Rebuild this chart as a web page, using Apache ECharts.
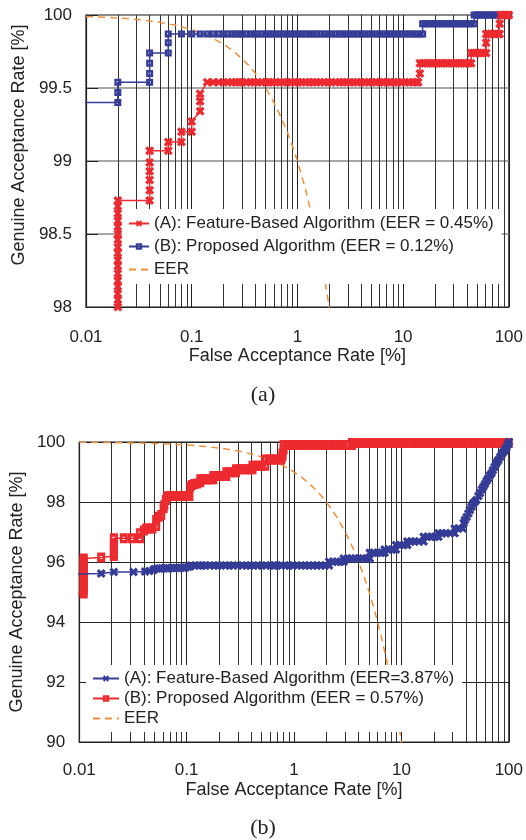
<!DOCTYPE html>
<html>
<head>
<meta charset="utf-8">
<script src="https://cdn.jsdelivr.net/npm/echarts@6/dist/echarts.min.js"></script>
<style>
  html, body { margin: 0; padding: 0; background: #fff; }
  #chart { width: 526px; height: 840px; }
</style>
</head>
<body>
<div id="chart"></div>
<script>
    // log axis: 0.01 .. 100 %, grid lines at 2..9 of every decade
    var farRange = [0.01, 100];
    var minorTicks = [0.02, 0.03, 0.04, 0.05, 0.06, 0.07, 0.08, 0.09,
        0.2, 0.3, 0.4, 0.5, 0.6, 0.7, 0.8, 0.9,
        2, 3, 4, 5, 6, 7, 8, 9,
        20, 30, 40, 50, 60, 70, 80, 90];
    var garRangeA = [98, 100], garStepA = 0.5;
    var garRangeB = [90, 100], garStepB = 2;

    var namesA = ['(A): Feature-Based Algorithm (EER = 0.45%)', '(B): Proposed Algorithm (EER = 0.12%)', 'EER'];
    var namesB = ['(A): Feature-Based Algorithm (EER=3.87%)', '(B): Proposed Algorithm (EER = 0.57%)', 'EER'];

    // FRR = FAR line
    var eerLine = [[0.01, 99.99], [0.02, 99.98], [0.03, 99.97], [0.05, 99.95], [0.07, 99.93], [0.1, 99.9],
        [0.15, 99.85], [0.2, 99.8], [0.25, 99.75], [0.3, 99.7], [0.35, 99.65], [0.4, 99.6], [0.45, 99.55],
        [0.5, 99.5], [0.6, 99.4], [0.7, 99.3], [0.8, 99.2], [0.9, 99.1], [1, 99], [1.2, 98.8], [1.4, 98.6],
        [1.6, 98.4], [1.8, 98.2], [2, 98], [2.5, 97.5], [3, 97], [3.5, 96.5], [4, 96], [4.5, 95.5], [5, 95],
        [5.5, 94.5], [6, 94], [6.5, 93.5], [7, 93], [7.5, 92.5], [8, 92], [8.5, 91.5], [9, 91], [9.5, 90.5],
        [10, 90], [10.5, 89.5]];

    // (a) feature based, [FAR, GAR]
    var featureA = [
        [0.02, 97.6], [0.02, 98.0], [0.02, 98.05], [0.02, 98.09], [0.02, 98.14], [0.02, 98.18],
        [0.02, 98.23], [0.02, 98.28], [0.02, 98.32], [0.02, 98.37], [0.02, 98.41], [0.02, 98.46],
        [0.02, 98.5], [0.02, 98.55], [0.02, 98.59], [0.02, 98.64], [0.02, 98.69], [0.02, 98.73],
        [0.04, 98.73], [0.04, 98.8], [0.04, 98.87], [0.04, 98.93], [0.04, 98.99], [0.04, 99.07],
        [0.06, 99.07], [0.06, 99.13], [0.08, 99.13], [0.08, 99.2], [0.1, 99.2], [0.1, 99.27],
        [0.12, 99.34], [0.12, 99.41], [0.12, 99.46],
        [0.14, 99.54], [0.16, 99.54], [0.18, 99.54], [0.2, 99.54], [0.22, 99.54], [0.24, 99.54],
        [0.26, 99.54], [0.28, 99.54], [0.3, 99.54], [0.33, 99.54], [0.36, 99.54], [0.39, 99.54],
        [0.42, 99.54], [0.46, 99.54], [0.5, 99.54], [0.54, 99.54], [0.58, 99.54], [0.63, 99.54],
        [0.68, 99.54], [0.74, 99.54], [0.8, 99.54], [0.87, 99.54], [0.94, 99.54], [1.02, 99.54],
        [1.1, 99.54], [1.2, 99.54], [1.3, 99.54], [1.4, 99.54], [1.52, 99.54], [1.65, 99.54],
        [1.8, 99.54], [1.95, 99.54], [2.1, 99.54], [2.3, 99.54], [2.5, 99.54], [2.7, 99.54],
        [2.9, 99.54], [3.15, 99.54], [3.4, 99.54], [3.7, 99.54], [4, 99.54], [4.35, 99.54],
        [4.7, 99.54], [5.1, 99.54], [5.5, 99.54], [6, 99.54], [6.5, 99.54], [7, 99.54],
        [7.6, 99.54], [8.2, 99.54], [8.9, 99.54], [9.7, 99.54], [10.5, 99.54], [11.4, 99.54],
        [12.3, 99.54], [13.3, 99.54], [13.9, 99.54],
        [14.4, 99.6], [14.4, 99.67], [15.2, 99.67], [16, 99.67], [16.9, 99.67], [17.8, 99.67],
        [18.8, 99.67], [19.8, 99.67], [20.9, 99.67], [22, 99.67], [23.2, 99.67], [24.5, 99.67],
        [25.8, 99.67], [27.2, 99.67], [28.7, 99.67], [30.3, 99.67], [32, 99.67], [33.7, 99.67],
        [35.5, 99.67], [37.5, 99.67], [39.5, 99.67], [41.7, 99.67], [44, 99.67],
        [44, 99.74], [46.4, 99.74], [49, 99.74], [51.7, 99.74], [54.5, 99.74], [57.5, 99.74], [61, 99.74],
        [61, 99.81], [61, 99.87], [64.4, 99.87], [68, 99.87], [71.7, 99.87], [75.6, 99.87], [79.8, 99.87], [82, 99.87],
        [82, 99.94], [84, 100], [88.5, 100], [93.5, 100], [98, 100], [100, 100]
    ];

    // (a) proposed
    var proposedA = [
        [0.005, 99.4], [0.02, 99.4], [0.02, 99.47], [0.02, 99.54],
        [0.04, 99.54], [0.04, 99.6], [0.04, 99.67], [0.04, 99.74],
        [0.06, 99.74], [0.06, 99.81], [0.06, 99.87],
        [0.08, 99.87], [0.1, 99.87], [0.12, 99.87], [0.14, 99.87], [0.16, 99.87], [0.18, 99.87],
        [0.2, 99.87], [0.22, 99.87], [0.24, 99.87], [0.26, 99.87], [0.28, 99.87], [0.3, 99.87],
        [0.33, 99.87], [0.36, 99.87], [0.39, 99.87], [0.42, 99.87], [0.46, 99.87], [0.5, 99.87],
        [0.54, 99.87], [0.58, 99.87], [0.63, 99.87], [0.68, 99.87], [0.74, 99.87], [0.8, 99.87],
        [0.87, 99.87], [0.94, 99.87], [1.02, 99.87], [1.1, 99.87], [1.2, 99.87], [1.3, 99.87],
        [1.4, 99.87], [1.52, 99.87], [1.65, 99.87], [1.8, 99.87], [1.95, 99.87], [2.1, 99.87],
        [2.3, 99.87], [2.5, 99.87], [2.7, 99.87], [2.9, 99.87], [3.15, 99.87], [3.4, 99.87],
        [3.7, 99.87], [4, 99.87], [4.35, 99.87], [4.7, 99.87], [5.1, 99.87], [5.5, 99.87],
        [6, 99.87], [6.5, 99.87], [7, 99.87], [7.6, 99.87], [8.2, 99.87], [8.9, 99.87],
        [9.7, 99.87], [10.5, 99.87], [11.4, 99.87], [12.3, 99.87], [13.3, 99.87], [14.4, 99.87], [15.3, 99.87],
        [15.3, 99.94], [16.1, 99.94], [16.9, 99.94], [17.8, 99.94], [18.8, 99.94], [19.8, 99.94],
        [20.9, 99.94], [22, 99.94], [23.2, 99.94], [24.5, 99.94], [25.8, 99.94], [27.2, 99.94],
        [28.7, 99.94], [30.3, 99.94], [32, 99.94], [33.7, 99.94], [35.5, 99.94], [37.5, 99.94],
        [39.5, 99.94], [41.7, 99.94], [44, 99.94], [47, 99.94],
        [47, 100], [49.5, 100], [52, 100], [55, 100], [58, 100], [61, 100], [64.5, 100], [68, 100],
        [72, 100], [76, 100], [80, 100], [84, 100], [88.5, 100], [93.5, 100], [98, 100], [100, 100]
    ];

    // (b) feature based
    var featureB = [
        [0.005, 95.57], [0.016, 95.62], [0.021, 95.67], [0.032, 95.67], [0.041, 95.68], [0.045, 95.7],
        [0.049, 95.73], [0.05, 95.77], [0.053, 95.78], [0.056, 95.78], [0.059, 95.78], [0.062, 95.79],
        [0.065, 95.79], [0.068, 95.79], [0.072, 95.8], [0.076, 95.8], [0.08, 95.8], [0.084, 95.8],
        [0.088, 95.81], [0.093, 95.81], [0.098, 95.82], [0.104, 95.84], [0.108, 95.86],
        [0.11, 95.88], [0.12, 95.88], [0.13, 95.88], [0.14, 95.88], [0.15, 95.88], [0.165, 95.88],
        [0.18, 95.88], [0.195, 95.88], [0.21, 95.88], [0.23, 95.88], [0.25, 95.88], [0.27, 95.88],
        [0.3, 95.88], [0.33, 95.88], [0.36, 95.88], [0.39, 95.88], [0.42, 95.88], [0.46, 95.88],
        [0.5, 95.88], [0.55, 95.88], [0.6, 95.88], [0.65, 95.88], [0.7, 95.88], [0.76, 95.88],
        [0.83, 95.88], [0.9, 95.88], [0.98, 95.88], [1.07, 95.88], [1.17, 95.88], [1.27, 95.88],
        [1.38, 95.88], [1.5, 95.88], [1.63, 95.88], [1.78, 95.88], [1.94, 95.88], [2.12, 95.88],
        [2.12, 96.01], [2.3, 96.01], [2.5, 96.01], [2.7, 96.01], [2.9, 96.01],
        [2.9, 96.12], [3.15, 96.12], [3.4, 96.12], [3.7, 96.12], [4, 96.12], [4.35, 96.12], [4.7, 96.12], [5.08, 96.12],
        [5.08, 96.31], [5.5, 96.31], [6, 96.31], [6.5, 96.31], [6.97, 96.31],
        [6.97, 96.42], [7.6, 96.42], [8.2, 96.42], [8.9, 96.42],
        [8.9, 96.57], [9.7, 96.57], [10.5, 96.57], [11.35, 96.57],
        [11.35, 96.68], [12.3, 96.68], [13.3, 96.68], [14.5, 96.68], [16.1, 96.68],
        [16.1, 96.84], [17.5, 96.84], [19, 96.84], [20.5, 96.84], [22.1, 96.84],
        [22.1, 96.96], [24, 96.96], [26, 96.96], [28.5, 96.96], [31.3, 96.96],
        [31.3, 97.12], [33.8, 97.12], [37.3, 97.12],
        [38, 97.3], [39, 97.4], [40.5, 97.5], [42, 97.62], [43.5, 97.73], [45, 97.84], [46.5, 97.95],
        [48, 98.0], [50, 98.07], [52, 98.2], [54, 98.3], [56, 98.42], [58, 98.51], [60, 98.6],
        [62, 98.7], [64, 98.78], [66.5, 98.88], [69, 98.96], [71, 99.06], [73.5, 99.17], [76, 99.27],
        [78, 99.34], [80, 99.4], [83, 99.5], [86, 99.6], [89, 99.67], [92, 99.73], [95, 99.82],
        [98, 99.92], [100, 100]
    ];

    // (b) proposed
    var proposedB = [
        [0.005, 94.93], [0.011, 94.95], [0.011, 95.05], [0.011, 95.15], [0.011, 95.25], [0.011, 95.35],
        [0.011, 95.45], [0.011, 95.55], [0.011, 95.65], [0.011, 95.75], [0.011, 95.85], [0.011, 95.95],
        [0.011, 96.05], [0.011, 96.12], [0.016, 96.15], [0.021, 96.2], [0.021, 96.29], [0.021, 96.46],
        [0.021, 96.62], [0.021, 96.79], [0.026, 96.79], [0.031, 96.79], [0.0367, 96.79], [0.0367, 96.96],
        [0.04, 97.05], [0.042, 97.12], [0.045, 97.12], [0.048, 97.12], [0.052, 97.2], [0.052, 97.4],
        [0.055, 97.51], [0.058, 97.57], [0.061, 97.79], [0.062, 97.9], [0.064, 98.07], [0.066, 98.18],
        [0.069, 98.2], [0.073, 98.2], [0.077, 98.2], [0.081, 98.2], [0.086, 98.2], [0.091, 98.2],
        [0.096, 98.2], [0.101, 98.2], [0.106, 98.2], [0.108, 98.51], [0.112, 98.57], [0.118, 98.6],
        [0.125, 98.62], [0.134, 98.66], [0.134, 98.76], [0.142, 98.76], [0.15, 98.76], [0.16, 98.76],
        [0.168, 98.76], [0.177, 98.76], [0.177, 98.87], [0.187, 98.87], [0.198, 98.87], [0.21, 98.87],
        [0.222, 98.87], [0.234, 98.87], [0.234, 98.99], [0.25, 98.99], [0.268, 98.99], [0.288, 98.99],
        [0.288, 99.09], [0.31, 99.09], [0.335, 99.09], [0.36, 99.09], [0.385, 99.09], [0.41, 99.09],
        [0.41, 99.21], [0.44, 99.21], [0.47, 99.21], [0.5, 99.21], [0.54, 99.21],
        [0.54, 99.42], [0.58, 99.42], [0.62, 99.42], [0.66, 99.42], [0.71, 99.42], [0.76, 99.42],
        [0.78, 99.52], [0.78, 99.62], [0.8, 99.75], [0.8, 99.9],
        [0.85, 99.9], [0.92, 99.9], [1, 99.9], [1.08, 99.9], [1.17, 99.9], [1.27, 99.9], [1.38, 99.9],
        [1.5, 99.9], [1.63, 99.9], [1.77, 99.9], [1.92, 99.9], [2.08, 99.9], [2.25, 99.9], [2.45, 99.9],
        [2.65, 99.9], [2.87, 99.9], [3.1, 99.9], [3.46, 99.9],
        [3.46, 99.97], [3.75, 99.97], [4.05, 99.97], [4.4, 99.97], [4.8, 99.97], [5.2, 99.97],
        [5.6, 99.97], [6.1, 99.97], [6.6, 99.97], [7.2, 99.97], [7.8, 99.97], [8.4, 99.97],
        [9.1, 99.97], [9.9, 99.97], [10.7, 99.97], [11.6, 99.97], [12.6, 99.97], [13.7, 99.97],
        [14.8, 99.97], [16, 99.97], [17.4, 99.97], [18.9, 99.97], [20.5, 99.97], [22.2, 99.97],
        [24, 99.97], [26, 99.97], [28.2, 99.97], [30.6, 99.97], [33.2, 99.97], [36, 99.97],
        [39, 99.97], [42.3, 99.97], [45.9, 99.97], [49.8, 99.97], [54, 99.97], [58.5, 99.97],
        [63.5, 99.97], [68.8, 99.97], [74.6, 99.97], [80.9, 99.97], [87.7, 99.97], [95.1, 99.97], [100, 99.97]
    ];

    var red = '#ED2A2F', blue = '#343C96', orange = '#F0913E', ink = '#222';
    var font = 'Liberation Sans';
    var xMark = 'path://M0,2.5L2.5,0L5,2.5L7.5,0L10,2.5L7.5,5L10,7.5L7.5,10L5,7.5L2.5,10L0,7.5L2.5,5Z';
    var boxMark = 'path://M0,0H10V10H0ZM3.4,3.4V6.6H6.6V3.4Z';

    function xAxisOf(i, gap, margin) {
        return {
            gridIndex: i, type: 'log', logBase: 10, min: farRange[0], max: farRange[1],
            name: 'False Acceptance Rate [%]', nameLocation: 'middle', nameGap: gap,
            nameTextStyle: {fontFamily: font, fontSize: 18, color: ink},
            axisLabel: {fontFamily: font, fontSize: 17, color: ink, margin: margin},
            axisTick: {show: false},
            axisLine: {lineStyle: {color: ink, width: 1.2}},
            splitLine: {show: true, lineStyle: {color: ink, width: 1}}
        };
    }

    function yAxisOf(i, range, step, gap, pad, gridColor, gridWidth) {
        return {
            gridIndex: i, type: 'value', min: range[0], max: range[1], interval: step,
            name: 'Genuine Acceptance Rate [%]', nameLocation: 'middle', nameGap: gap,
            nameTextStyle: {fontFamily: font, fontSize: 18, color: ink, padding: pad},
            axisLabel: {fontFamily: font, fontSize: 17, color: ink, margin: 14},
            axisTick: {show: true, inside: true, length: 12, lineStyle: {color: ink}},
            axisLine: {show: true, lineStyle: {color: ink, width: 1.2}},
            splitLine: {show: true, lineStyle: {color: gridColor, width: gridWidth}}
        };
    }

    function minorGrid(i) {
        return {
            type: 'line', xAxisIndex: i, yAxisIndex: i, data: [], z: 1, silent: true,
            markLine: {
                z: 1, silent: true, symbol: ['none', 'none'], label: {show: false},
                lineStyle: {color: '#333', width: 1, type: 'solid'},
                emphasis: {disabled: true},
                data: minorTicks.map(function (v) { return {xAxis: v}; })
            }
        };
    }

    function eerSeries(i) {
        return {
            name: 'EER', type: 'line', xAxisIndex: i, yAxisIndex: i, data: eerLine,
            symbol: 'none', z: 2,
            lineStyle: {color: orange, width: 1.5, type: [7, 5]},
            itemStyle: {color: orange}
        };
    }

    function markSeries(i, name, data, color, symbol, size, z) {
        return {
            name: name, type: 'line', xAxisIndex: i, yAxisIndex: i, data: data,
            symbol: symbol, symbolSize: size, z: z,
            lineStyle: {color: color, width: 1.5},
            itemStyle: {color: color}
        };
    }

    function legendItems(names) {
        return [names[0], names[1], {name: names[2], itemStyle: {opacity: 0}}];
    }

    var chart = echarts.init(document.getElementById('chart'));
    var option = {
        animation: false,
        backgroundColor: '#fff',
        title: [
            {text: '(a)', left: 'center', top: 379, textStyle: {fontFamily: 'Liberation Serif', fontSize: 22, fontWeight: 'normal', color: ink}},
            {text: '(b)', left: 'center', top: 812, textStyle: {fontFamily: 'Liberation Serif', fontSize: 22, fontWeight: 'normal', color: ink}}
        ],
        grid: [
            {left: 86, top: 15, right: 15, bottom: 533, show: true, borderColor: ink, borderWidth: 1.2},
            {left: 73, top: 442, right: 14, bottom: 98, show: true, borderColor: ink, borderWidth: 1.2}
        ],
        legend: [
            {
                data: legendItems(namesA), orient: 'vertical', left: 122, top: 209, selectedMode: false, z: 20,
                backgroundColor: '#fff', padding: [6, 8, 6, 6], itemGap: 6, itemWidth: 20, itemHeight: 8,
                textStyle: {fontFamily: font, fontSize: 17, color: ink}
            },
            {
                data: legendItems(namesB), orient: 'vertical', left: 86, top: 665, selectedMode: false, z: 20,
                backgroundColor: '#fff', padding: [5, 8, 5, 6], itemGap: 3, itemWidth: 26, itemHeight: 8,
                textStyle: {fontFamily: font, fontSize: 17, color: ink}
            }
        ],
        xAxis: [xAxisOf(0, 33, 22), xAxisOf(1, 39, 20)],
        yAxis: [
            yAxisOf(0, garRangeA, garStepA, 57, [0, 0, 0, 32], '#888', 1.5),
            yAxisOf(1, garRangeB, garStepB, 53, 0, ink, 1.2)
        ],
        series: [
            minorGrid(0),
            eerSeries(0),
            markSeries(0, namesA[1], proposedA, blue, boxMark, 7, 3),
            markSeries(0, namesA[0], featureA, red, xMark, 9, 4),
            minorGrid(1),
            eerSeries(1),
            markSeries(1, namesB[1], proposedB, red, boxMark, [8, 10], 3),
            markSeries(1, namesB[0], featureB, blue, xMark, 9, 4)
        ]
    };
    chart.setOption(option);
</script>
</body>
</html>
